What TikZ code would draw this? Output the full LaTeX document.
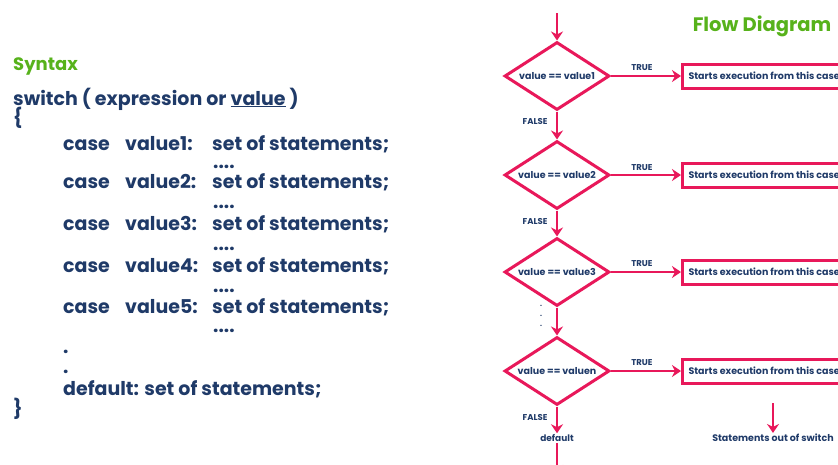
\documentclass[tikz,border=0pt]{standalone}
\usepackage{fontspec}
\setmainfont{Poppins}
\usetikzlibrary{arrows.meta}
\usetikzlibrary{shapes.geometric}

\definecolor{navy}{HTML}{1F3A68}
\definecolor{crimson}{HTML}{E8185A}
\definecolor{leaf}{HTML}{57B21B}

\tikzset{
  code/.style={anchor=base west, font=\fontsize{19}{19}\selectfont\bfseries, text=navy, inner sep=0},
  head/.style={anchor=base west, font=\fontsize{18}{18}\selectfont\bfseries, text=leaf, inner sep=0},
  test/.style={diamond, aspect=1.55, draw=crimson, line width=3pt, minimum width=105pt, minimum height=68pt,
    inner sep=0, font=\fontsize{9.5}{9.5}\selectfont\bfseries, text=navy},
  casebox/.style={draw=crimson, line width=3pt, anchor=west, minimum height=24pt, inner xsep=6pt,
    font=\fontsize{9.5}{9.5}\selectfont\bfseries, text=navy},
  small/.style={font=\fontsize{8.5}{8.5}\selectfont\bfseries, text=navy, inner sep=1pt},
  flow/.style={draw=crimson, line width=2.5pt, -{Stealth[length=9pt,width=12pt]}}
}

\begin{document}
\begin{tikzpicture}[x=1pt, y=-1pt]
      \useasboundingbox (0,0) rectangle (838,464);

      % syntax
      \node[head] (syntax) at (13,70) {Syntax};
      \node[code] (switch) at (13,105) {switch ( expression or \underline{value} )};
      \node[code] (open) at (13,124) {\{};
      \foreach \i/\y in {1/150,2/188,3/230,4/272,5/313} {
        \node[code] (case\i) at (63,\y) {case};
        \node[code] (val\i) at (125,\y) {value\i:};
        \node[code] (stmt\i) at (212,\y) {set of statements;};
      }
      \foreach \i/\y in {1/168,2/208,3/250,4/292,5/332}
        \node[code] (gap\i) at (213,\y) {....};
      \node[code] (dot1) at (63,353) {.};
      \node[code] (dot2) at (63,373) {.};
      \node[code] (default) at (63,395) {default: set of statements;};
      \node[code] (close) at (13,415) {\}};

      % flow diagram
      \node[font=\fontsize{19.5}{19.5}\selectfont\bfseries, text=leaf] (title) at (762,26) {Flow Diagram};

      \coordinate (start) at (557,13);
      \node[test] (d1) at (557,76) {value == value1};
      \node[test] (d2) at (557,175) {value == value2};
      \node[test] (d3) at (557,272) {value == value3};
      \node[test] (dn) at (557,371) {value == valuen};

      \node[casebox] (b1) at (681,76) {Starts execution from this case};
      \node[casebox] (b2) at (681,175) {Starts execution from this case};
      \node[casebox] (b3) at (681,272) {Starts execution from this case};
      \node[casebox] (bn) at (681,371) {Starts execution from this case};

      \node[small] (f1) at (535,121) {FALSE};
      \node[small] (f2) at (535,221) {FALSE};
      \node[small] (fn) at (535,417) {FALSE};
      \foreach \d/\y in {1/68,2/168,3/264,n/363}
        \node[small] (t\d) at (642,\y) {TRUE};

      \node[small, align=center, font=\fontsize{7}{10}\selectfont\bfseries] (dots) at (541,316) {.\\.\\.};
      \node[small, font=\fontsize{9}{9}\selectfont\bfseries] (dflt) at (557,438) {default};
      \node[small, font=\fontsize{9.5}{9.5}\selectfont\bfseries] (out) at (773,438) {Statements out of switch};
      \coordinate (outtop) at (773,403);
      \coordinate (end) at (557,474);

      \draw[flow] (start) -- (d1.north);
      \draw[flow] (d1.south) -- (d2.north);
      \draw[flow] (d2.south) -- (d3.north);
      \draw[flow] (d3.south) -- (dn.north);
      \draw[flow] (dn.south) -- (dflt.north);
      \draw[flow] (dflt.south) -- (end);
      \draw[flow] (outtop) -- (out.north);
      \foreach \d in {1,2,3,n}
        \draw[flow] (d\d.east) -- (b\d.west);
\end{tikzpicture}
\end{document}
